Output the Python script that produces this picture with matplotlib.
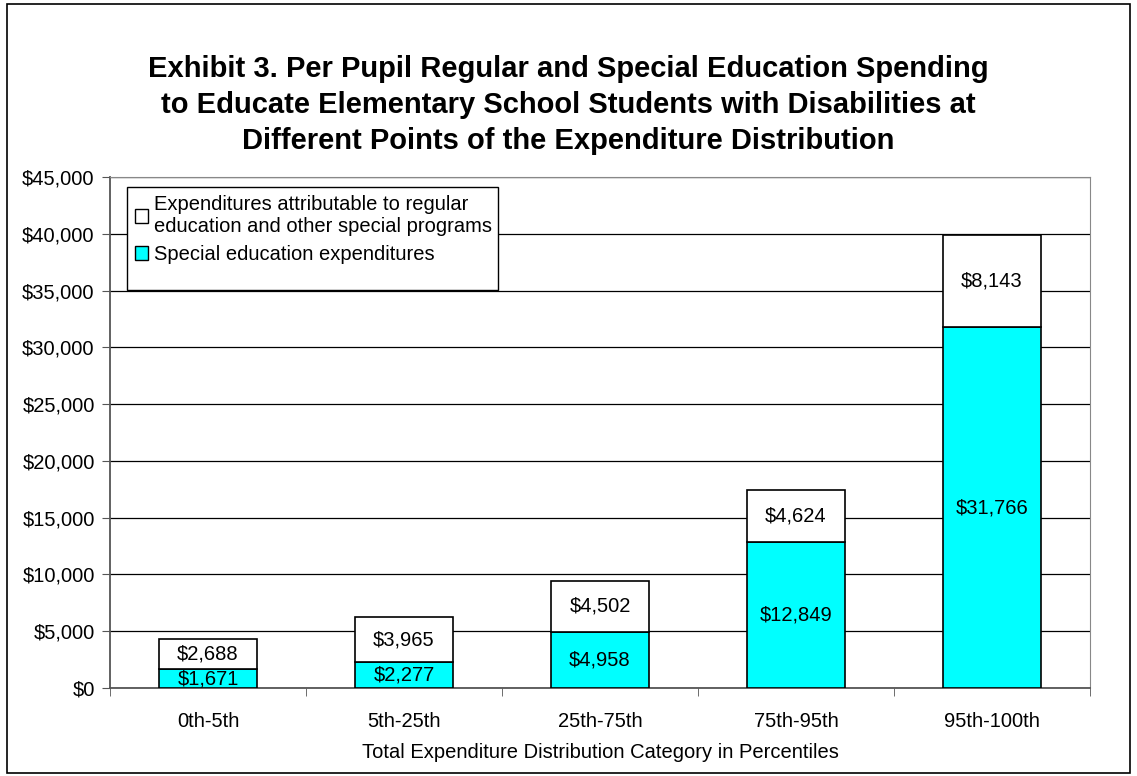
import matplotlib.pyplot as plt
from matplotlib.patches import Rectangle, Patch

plt.rcParams['font.family'] = ['Liberation Sans', 'DejaVu Sans']

categories = ['0th-5th', '5th-25th', '25th-75th', '75th-95th', '95th-100th']
special_ed = [1671, 2277, 4958, 12849, 31766]
regular_ed = [2688, 3965, 4502, 4624, 8143]
yticks = list(range(0, 45001, 5000))

W, H = 1137, 776
fig = plt.figure(figsize=(W / 100, H / 100), dpi=100)
# outer frame round the whole chart
fig.patches.append(Rectangle((7 / W, 3 / H), 1123 / W, 769 / H, transform=fig.transFigure,
                             fill=False, edgecolor='black', linewidth=1.2))

ax = fig.add_axes([110 / W, 1 - 688 / H, 980 / W, 511 / H])

x = range(len(categories))
ax.bar(x, special_ed, width=0.5, color='#00FFFF', edgecolor='black', linewidth=1.2, zorder=3)
ax.bar(x, regular_ed, width=0.5, bottom=special_ed, color='white', edgecolor='black',
       linewidth=1.2, zorder=3)

fs = 14.5
for i in x:
    ax.text(i, special_ed[i] / 2, f'${special_ed[i]:,}', ha='center', va='center', fontsize=fs, zorder=4)
    ax.text(i, special_ed[i] + regular_ed[i] / 2, f'${regular_ed[i]:,}', ha='center', va='center',
            fontsize=fs, zorder=4)

ax.set_xlim(-0.5, len(categories) - 0.5)
ax.set_ylim(0, 45000)
ax.set_yticks(yticks)
ax.set_yticklabels([f'${v:,}' for v in yticks], fontsize=fs)
ax.set_xticks(list(x))
ax.set_xticklabels(categories, fontsize=fs)
ax.set_xticks([i - 0.5 for i in range(len(categories) + 1)], minor=True)
ax.tick_params(axis='x', which='major', length=0, pad=17)
ax.tick_params(axis='x', which='minor', length=6, direction='out', color='#555555')
ax.tick_params(axis='y', length=6, direction='out', color='#555555', pad=5)
ax.yaxis.grid(True, color='black', linewidth=0.9, zorder=0)
ax.set_axisbelow(True)
for s in ['top', 'right']:
    ax.spines[s].set_color('#888888')
for s in ['left', 'bottom']:
    ax.spines[s].set_color('#555555')
    ax.spines[s].set_linewidth(1.3)

ax.set_xlabel('Total Expenditure Distribution Category in Percentiles', fontsize=fs, labelpad=9)

# legend box drawn by hand (Excel leaves extra room at the bottom)
ax.add_patch(Rectangle((17 / 980, 1 - 113 / 511), 371 / 980, 103 / 511, transform=ax.transAxes,
                       facecolor='white', edgecolor='black', linewidth=1.0, zorder=5))
handles = [Patch(facecolor='white', edgecolor='black'), Patch(facecolor='#00FFFF', edgecolor='black')]
labels = ['Expenditures attributable to regular\neducation and other special programs',
          'Special education expenditures']
leg = ax.legend(handles, labels, loc='upper left', bbox_to_anchor=(23 / 980, 1 - 16 / 511),
                fontsize=fs, frameon=False, handlelength=0.65, handleheight=0.65,
                handletextpad=0.3, borderpad=0.1, labelspacing=0.45, borderaxespad=0)
leg.set_zorder(6)

fig.text(0.5, 1 - 105 / H, 'Exhibit 3. Per Pupil Regular and Special Education Spending\n'
         'to Educate Elementary School Students with Disabilities at\n'
         'Different Points of the Expenditure Distribution',
         ha='center', va='center', fontsize=21, fontweight='bold', linespacing=1.36)

fig.savefig('out.png', dpi=100)
